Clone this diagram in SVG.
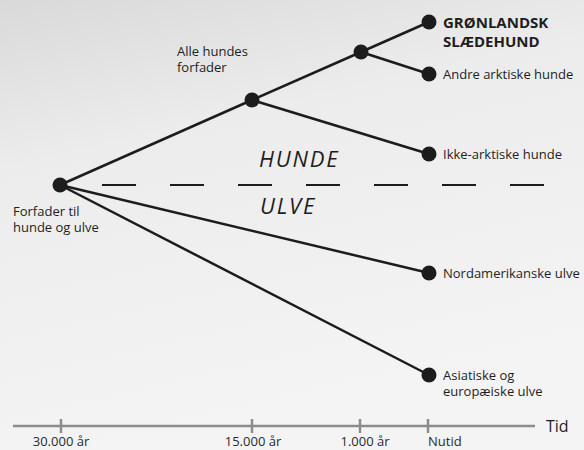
<svg xmlns="http://www.w3.org/2000/svg" width="584" height="450" viewBox="0 0 584 450">
<defs>
<linearGradient id="bg" x1="0" y1="0" x2="0.3" y2="1">
<stop offset="0" stop-color="#d9d9d9"/>
<stop offset="0.35" stop-color="#ececec"/>
<stop offset="1" stop-color="#f4f4f4"/>
</linearGradient>
<style>
.edge{stroke:#1c1c1c;stroke-width:2.5;fill:none;stroke-linecap:round}
.dot{fill:#1c1c1c}
.lbl{font-family:"Open Sans","Noto Sans",sans-serif;font-size:13px;fill:#1e1e1e}
.big{font-family:"Open Sans","Noto Sans",sans-serif;font-size:15px;font-weight:bold;fill:#1e1e1e}
.zone{font-family:"Open Sans","Noto Sans",sans-serif;font-size:22px;font-style:italic;letter-spacing:1.8px;fill:#1e1e1e}
.axis{stroke:#8c8c8c;stroke-width:2.5;fill:none}
.tick{font-family:"Open Sans","Noto Sans",sans-serif;font-size:13px;fill:#2a2a2a}
</style>
</defs>
<rect width="584" height="450" fill="url(#bg)"/>

<g id="connectors">
<line class="edge" x1="60" y1="185" x2="252" y2="100"/>
<line class="edge" x1="252" y1="100" x2="361" y2="52"/>
<line class="edge" x1="361" y1="52" x2="429" y2="22"/>
<line class="edge" x1="361" y1="52" x2="429" y2="74"/>
<line class="edge" x1="252" y1="100" x2="429" y2="154"/>
<line class="edge" x1="60" y1="185" x2="429" y2="273"/>
<line class="edge" x1="60" y1="185" x2="429" y2="375"/>
</g>

<g id="divider">
<line x1="102" y1="185" x2="545" y2="185" stroke="#1c1c1c" stroke-width="2" stroke-dasharray="34 34"/>
<text class="zone" x="259" y="167">HUNDE</text>
<text class="zone" x="260" y="214">ULVE</text>
</g>

<g id="node-root">
<circle class="dot" cx="60" cy="185" r="7.5"/>
<text class="lbl" x="13" y="215.5">Forfader til</text>
<text class="lbl" x="13" y="232">hunde og ulve</text>
</g>
<g id="node-alle">
<circle class="dot" cx="252" cy="100" r="7.5"/>
<text class="lbl" x="177" y="55.5">Alle hundes</text>
<text class="lbl" x="177" y="72">forfader</text>
</g>
<g id="node-arctic">
<circle class="dot" cx="361" cy="52" r="7.5"/>
</g>
<g id="node-groenland">
<circle class="dot" cx="429" cy="22" r="7.5"/>
<text class="big" x="443" y="28">GRØNLANDSK</text>
<text class="big" x="443" y="47">SLÆDEHUND</text>
</g>
<g id="node-andre">
<circle class="dot" cx="429" cy="74" r="7.5"/>
<text class="lbl" x="443" y="79">Andre arktiske hunde</text>
</g>
<g id="node-ikke">
<circle class="dot" cx="429" cy="154" r="7.5"/>
<text class="lbl" x="443" y="159">Ikke-arktiske hunde</text>
</g>
<g id="node-nordam">
<circle class="dot" cx="429" cy="273" r="7.5"/>
<text class="lbl" x="443" y="278">Nordamerikanske ulve</text>
</g>
<g id="node-asia">
<circle class="dot" cx="429" cy="375" r="7.5"/>
<text class="lbl" x="443" y="379.5">Asiatiske og</text>
<text class="lbl" x="443" y="396">europæiske ulve</text>
</g>

<g id="timeline">
<line class="axis" x1="13" y1="426" x2="535" y2="426"/>
<line class="axis" x1="61" y1="419" x2="61" y2="433"/>
<line class="axis" x1="252" y1="419" x2="252" y2="433"/>
<line class="axis" x1="360" y1="419" x2="360" y2="433"/>
<line class="axis" x1="428" y1="419" x2="428" y2="433"/>
<text class="tick" x="61" y="446" text-anchor="middle">30.000 år</text>
<text class="tick" x="253" y="446" text-anchor="middle">15.000 år</text>
<text class="tick" x="365" y="446" text-anchor="middle">1.000 år</text>
<text class="tick" x="428" y="446">Nutid</text>
<text x="546" y="432" font-family="Open Sans, Noto Sans, sans-serif" font-size="16" fill="#1e1e1e">Tid</text>
</g>
</svg>
